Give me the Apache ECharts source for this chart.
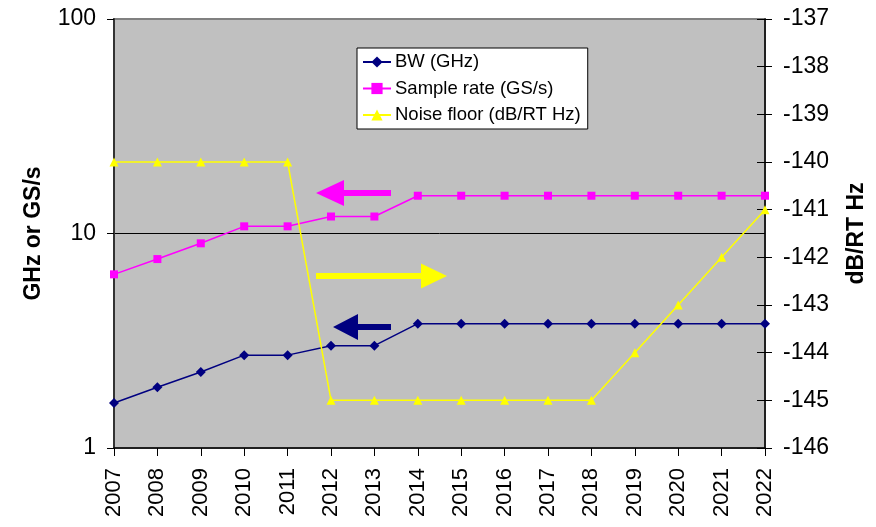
<!DOCTYPE html>
<html>
<head>
<meta charset="utf-8">
<script src="https://cdn.jsdelivr.net/npm/echarts@6/dist/echarts.min.js"></script>
<style>
  html, body { margin: 0; padding: 0; background: #fff; }
  #chart { width: 876px; height: 527px; }
</style>
</head>
<body>
<div id="chart"></div>
<script>
// Roadmap data, one value per year
const years = ['2007','2008','2009','2010','2011','2012','2013','2014','2015','2016','2017','2018','2019','2020','2021','2022'];
const bandwidthGHz = [1.62, 1.92, 2.26, 2.71, 2.71, 3.0, 3.0, 3.8, 3.8, 3.8, 3.8, 3.8, 3.8, 3.8, 3.8, 3.8];
const sampleRateGSs = [6.45, 7.6, 9.0, 10.8, 10.8, 12.0, 12.0, 15.0, 15.0, 15.0, 15.0, 15.0, 15.0, 15.0, 15.0, 15.0];
const noiseFloorDb = [-140, -140, -140, -140, -140, -145, -145, -145, -145, -145, -145, -145, -144, -143, -142, -141];

const leftTitle = 'GHz or GS/s';
const rightTitle = 'dB/RT Hz';
const seriesNames = ['BW (GHz)', 'Sample rate (GS/s)', 'Noise floor (dB/RT Hz)'];

const FONT = '"Liberation Sans", Arial, sans-serif';
const NAVY = '#000080', MAGENTA = '#FF00FF', YELLOW = '#FFFF00';

// Block arrow (pointing left when the tip is left of the tail, right otherwise)
function arrowPoints(tailX, tipX, y, headLen, headHalf, shaftHalf) {
  const dir = tipX > tailX ? 1 : -1;
  const backX = tipX - dir * headLen;
  return [
    [tailX, y - shaftHalf], [backX, y - shaftHalf], [backX, y - headHalf],
    [tipX, y], [backX, y + headHalf], [backX, y + shaftHalf], [tailX, y + shaftHalf]
  ];
}

const chart = echarts.init(document.getElementById('chart'), null, { renderer: 'canvas' });

const option = {
  backgroundColor: '#ffffff',
  animation: false,
  textStyle: { fontFamily: FONT },
  grid: {
    left: 114, right: 109, top: 19, bottom: 79,
    show: true, backgroundColor: '#C0C0C0', borderColor: '#808080', borderWidth: 2
  },
  legend: {
    data: seriesNames,
    orient: 'vertical',
    left: 357, top: 48,
    backgroundColor: '#ffffff',
    borderColor: '#000000', borderWidth: 1, borderRadius: 0,
    padding: [4.5, 7, 4.5, 5],
    itemWidth: 28, itemHeight: 14, itemGap: 7.5,
    textStyle: { fontFamily: FONT, fontSize: 18.5, color: '#000', padding: [0, 0, 0, -1] }
  },
  xAxis: {
    type: 'category',
    data: years,
    boundaryGap: false,
    axisLine: { lineStyle: { color: '#000', width: 1.5 } },
    axisTick: { show: true, length: 8, inside: false, lineStyle: { color: '#000' } },
    axisLabel: { rotate: 90, fontSize: 22, color: '#000', fontFamily: FONT, margin: 20 },
    splitLine: { show: false }
  },
  yAxis: [
    {
      type: 'log', logBase: 10, min: 1, max: 100,
      position: 'left',
      name: leftTitle, nameLocation: 'middle', nameGap: 69, nameRotate: 90,
      nameTextStyle: { fontSize: 23, fontWeight: 'bold', color: '#000', fontFamily: FONT },
      axisLine: { show: true, lineStyle: { color: '#333', width: 2 } },
      axisTick: { show: true, length: 7, lineStyle: { color: '#000' } },
      axisLabel: { fontSize: 23, color: '#000', fontFamily: FONT, margin: 18 },
      splitLine: { show: true, showMinLine: false, showMaxLine: false, lineStyle: { color: '#000', width: 1 } },
      minorTick: { show: false }, minorSplitLine: { show: false }
    },
    {
      type: 'value', min: -146, max: -137, interval: 1,
      position: 'right',
      name: rightTitle, nameLocation: 'middle', nameGap: 80, nameRotate: 90,
      nameTextStyle: { fontSize: 23, fontWeight: 'bold', color: '#000', fontFamily: FONT },
      axisLine: { show: true, lineStyle: { color: '#000', width: 1.5 } },
      axisTick: { show: true, length: 7, lineStyle: { color: '#000' } },
      axisLabel: { fontSize: 23, color: '#000', fontFamily: FONT, margin: 18 },
      splitLine: { show: false }
    },
    {
      // inner half of the crossing ticks on the right axis
      type: 'value', min: -146, max: -137, interval: 1,
      position: 'right',
      axisLine: { show: false },
      axisTick: { show: true, inside: true, length: 8, lineStyle: { color: '#000' } },
      axisLabel: { show: false },
      splitLine: { show: false }
    }
  ],
  series: [
    {
      name: seriesNames[0], type: 'line', yAxisIndex: 0, data: bandwidthGHz,
      symbol: 'diamond', symbolSize: 10,
      lineStyle: { color: NAVY, width: 1.5 },
      itemStyle: { color: NAVY },
      z: 3
    },
    {
      name: seriesNames[1], type: 'line', yAxisIndex: 0, data: sampleRateGSs,
      symbol: 'rect', symbolSize: 8,
      lineStyle: { color: MAGENTA, width: 1.5 },
      itemStyle: { color: MAGENTA },
      z: 4
    },
    {
      name: seriesNames[2], type: 'line', yAxisIndex: 1, data: noiseFloorDb,
      symbol: 'triangle', symbolSize: 9,
      lineStyle: { color: YELLOW, width: 1.5 },
      itemStyle: { color: YELLOW },
      z: 5
    }
  ],
  graphic: [
    { type: 'polygon', z: 100, shape: { points: arrowPoints(391, 316, 193, 28, 13, 3) }, style: { fill: MAGENTA } },
    { type: 'polygon', z: 100, shape: { points: arrowPoints(316, 447, 276, 26, 12.5, 3) }, style: { fill: YELLOW } },
    { type: 'polygon', z: 100, shape: { points: arrowPoints(391, 333, 327, 25, 13, 3) }, style: { fill: NAVY } }
  ]
};

chart.setOption(option);
</script>
</body>
</html>
